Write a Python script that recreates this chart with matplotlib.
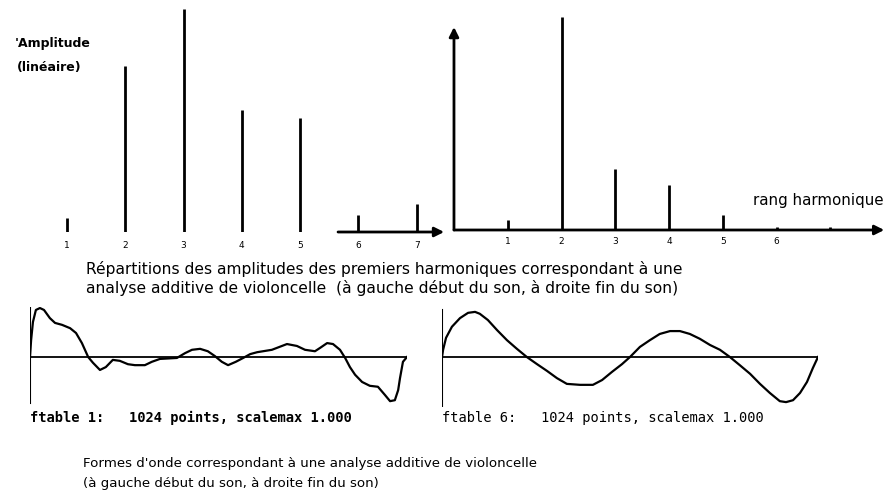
import matplotlib
matplotlib.use("Agg")
import matplotlib.pyplot as plt
import numpy as np

W, H = 895, 493

# spectre (hauteurs, unites arbitraires)
rang_gauche = [1, 2, 3, 4, 5, 6, 7]
ampl_gauche = [14, 166, 223, 122, 114, 17, 28]
rang_droite = [1, 2, 3, 4, 5, 6, 7]
ampl_droite = [10, 213, 61, 45, 15, 3, 3]
labels_gauche = ["1", "2", "3", "4", "5", "6", "7"]
labels_droite = ["1", "2", "3", "4", "5", "6"]

# formes d'onde (echantillon, amplitude normalisee)
ft1_x = [0, 3, 8, 16, 27, 38, 54, 68, 87, 109, 125, 141, 158, 171, 190, 206, 225, 244, 266,
         285, 312, 331, 353, 399, 421, 440, 462, 483, 502, 521, 538, 559, 579, 598, 617, 657,
         698, 725, 747, 774, 788, 807, 823, 842, 856, 869, 883, 902, 923, 945, 964, 978, 991,
         1000, 1005, 1013, 1024]
ft1_y = [0.0, 0.35, 0.73, 0.98, 1.02, 0.98, 0.81, 0.71, 0.67, 0.60, 0.50, 0.29, 0.0, -0.12,
         -0.27, -0.21, -0.06, -0.08, -0.15, -0.17, -0.17, -0.10, -0.04, -0.02, 0.08, 0.15,
         0.17, 0.12, 0.02, -0.10, -0.17, -0.10, -0.02, 0.06, 0.10, 0.15, 0.27, 0.23, 0.15,
         0.12, 0.19, 0.29, 0.27, 0.15, -0.02, -0.21, -0.37, -0.52, -0.60, -0.62, -0.79,
         -0.92, -0.90, -0.69, -0.44, -0.10, 0.0]
ft6_x = [0, 3, 11, 27, 49, 71, 90, 103, 125, 150, 177, 204, 231, 259, 286, 313, 340, 376, 411,
         436, 463, 490, 512, 539, 566, 593, 621, 648, 675, 702, 730, 757, 784, 811, 839, 866,
         893, 920, 937, 956, 975, 994, 1010, 1024]
ft6_y = [0.0, 0.15, 0.40, 0.63, 0.81, 0.92, 0.94, 0.90, 0.77, 0.56, 0.35, 0.17, 0.0, -0.15,
         -0.29, -0.44, -0.56, -0.58, -0.58, -0.48, -0.31, -0.15, 0.0, 0.21, 0.35, 0.48, 0.54,
         0.54, 0.48, 0.38, 0.25, 0.15, 0.0, -0.17, -0.35, -0.56, -0.75, -0.92, -0.94, -0.90,
         -0.75, -0.52, -0.23, 0.0]

fig = plt.figure(figsize=(W / 100, H / 100), dpi=100)
fig.patch.set_facecolor("white")


def rect(x0, y0, x1, y1):
    # pixels (haut-gauche) -> fraction de figure
    return [x0 / W, 1 - y1 / H, (x1 - x0) / W, (y1 - y0) / H]


def txt(x, y, s, **kw):
    fig.text(x / W, 1 - y / H, s, **kw)


arrow = dict(arrowstyle="-|>", lw=2, color="k", mutation_scale=14, shrinkA=0, shrinkB=0)
narrow = ["DejaVu Sans"]

# --- spectre gauche
ax1 = fig.add_axes(rect(8.7, 2, 475, 232))
ax1.set_xlim(0, 8)
ax1.set_ylim(0, 230)
ax1.vlines(rang_gauche, 0, ampl_gauche, color="k", lw=2)
ax1.annotate("", xy=(7.47, 0), xytext=(5.65, 0), arrowprops=arrow)
ax1.axis("off")
for i, lab in enumerate(labels_gauche):
    ax1.text(rang_gauche[i], -14, lab, ha="center", va="center", fontsize=6.5, clip_on=False)

# --- spectre droit
ax2 = fig.add_axes(rect(440, 2, 895, 230))
ax2.set_xlim(-0.26, 8.2)
ax2.set_ylim(0, 228)
ax2.vlines(rang_droite, 0, ampl_droite, color="k", lw=2)
ax2.annotate("", xy=(8.0, 0), xytext=(0, 0), arrowprops=arrow)
ax2.annotate("", xy=(0, 203), xytext=(0, 0), arrowprops=arrow)
ax2.axis("off")
for i, lab in enumerate(labels_droite):
    ax2.text(rang_droite[i], -12, lab, ha="center", va="center", fontsize=6.5, clip_on=False)

txt(15, 43, "'Amplitude", fontsize=9, fontweight="bold", va="center", family=narrow)
txt(17, 68, "(linéaire)", fontsize=9, fontweight="bold", va="center", family=narrow)
txt(753, 200, "rang harmonique", fontsize=10.8, va="center", family=narrow)

txt(86, 269, "Répartitions des amplitudes des premiers harmoniques correspondant à une",
    fontsize=11.2, va="center", family=narrow)
txt(86, 288, "analyse additive de violoncelle  (à gauche début du son, à droite fin du son)",
    fontsize=11.2, va="center", family=narrow)

# --- formes d'onde
def onde(x0, x1, y0, yb, yt, xs, ys):
    ax = fig.add_axes(rect(x0, y0 - 50, x1, y0 + 50))
    ax.set_xlim(0, 1024)
    ax.set_ylim(-50 / 48, 50 / 48)
    ax.plot([0, 1024], [0, 0], color="k", lw=1.3)
    ax.plot([0, 0], [(y0 - yb) / 48, (y0 - yt) / 48], color="k", lw=1.5)
    ax.plot(xs, ys, color="k", lw=1.6)
    ax.axis("off")
    return ax


onde(30, 407, 357, 403, 308, ft1_x, ft1_y)
onde(442, 818, 357, 407, 310, ft6_x, ft6_y)

txt(30, 418, "ftable 1:   1024 points, scalemax 1.000", fontsize=9.9, fontweight="bold",
    va="center", family=["DejaVu Sans Mono", "DejaVu Sans"])
txt(442, 418, "ftable 6:   1024 points, scalemax 1.000", fontsize=9.9,
    va="center", family=["DejaVu Sans Mono", "DejaVu Sans"])

txt(83, 464, "Formes d'onde correspondant à une analyse additive de violoncelle",
    fontsize=9.6, va="center", family=narrow)
txt(83, 483, "(à gauche début du son, à droite fin du son)",
    fontsize=9.6, va="center", family=narrow)

fig.savefig("out.png", dpi=100, facecolor="white")
